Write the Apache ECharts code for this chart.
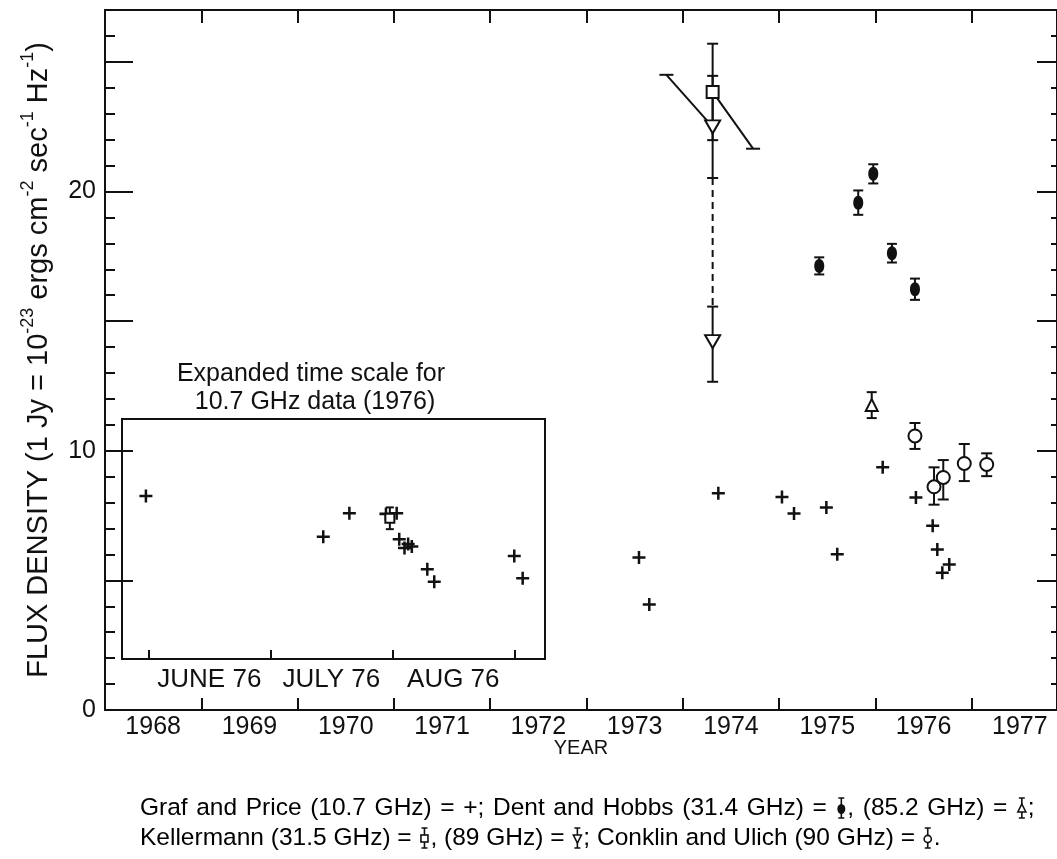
<!DOCTYPE html>
<html>
<head>
<meta charset="utf-8">
<script src="https://cdn.jsdelivr.net/npm/echarts@6/dist/echarts.min.js"></script>
<style>
  html, body { margin: 0; padding: 0; background: #fff; }
  #chart { width: 1057px; height: 859px; }
</style>
</head>
<body>
<div id="chart"></div>
<script>
// ---- data -------------------------------------------------------------
// Graf and Price, 10.7 GHz: [year, flux Jy]
const grafPrice = [
  [1973.545, 5.88], [1973.652, 4.07], [1974.369, 8.36], [1975.030, 8.22],
  [1975.155, 7.58], [1975.491, 7.81], [1975.604, 6.01], [1976.076, 9.36],
  [1976.421, 8.20], [1976.595, 7.11], [1976.643, 6.19], [1976.695, 5.29],
  [1976.767, 5.61]
];
// Dent and Hobbs, 31.4 GHz: [year, flux, low, high]
const dentHobbs31 = [
  [1975.417, 17.13, 16.80, 17.46], [1975.822, 19.57, 19.10, 20.04],
  [1975.978, 20.68, 20.31, 21.05], [1976.172, 17.62, 17.26, 17.98],
  [1976.411, 16.23, 15.82, 16.64]
];
// Dent and Hobbs, 85.2 GHz
const dentHobbs85 = [[1975.962, 11.76, 11.26, 12.26]];
// Kellermann, 31.5 GHz
const kellermann31 = [[1974.31, 23.84, 21.98, 25.70]];
// Kellermann, 89 GHz
const kellermann89 = [[1974.31, 22.49, 20.52, 24.46], [1974.31, 14.21, 12.66, 15.56]];
// Conklin and Ulich, 90 GHz
const conklinUlich = [
  [1976.411, 10.57, 10.07, 11.07], [1976.609, 8.61, 7.92, 9.36],
  [1976.705, 8.97, 8.12, 9.64], [1976.923, 9.51, 8.83, 10.26],
  [1977.156, 9.47, 9.02, 9.90]
];
// dashed link between the two 89 GHz measurements
const link89 = [[1974.31, 20.52], [1974.31, 15.56]];
// sloped segments attached to the Kellermann points
const slopeA = [[1973.83, 24.50], [1974.31, 22.49]];
const slopeB = [[1974.31, 23.84], [1974.73, 21.65]];
const slopeCaps = [slopeA[0], slopeB[1]];

// inset: 10.7 GHz in 1976, x in months (6 = 1 June, 7 = 1 July ...)
const insetGraf = [
  [5.980, 8.25], [7.434, 6.68], [7.648, 7.58], [7.948, 7.56], [8.036, 7.58],
  [8.057, 6.58], [8.100, 6.24], [8.130, 6.40], [8.160, 6.30], [8.287, 5.42],
  [8.344, 4.94], [9.000, 5.93], [9.069, 5.07]
];
const insetKellermann = [[7.98, 7.39, 6.97, 7.81]];

// axis ticks and labels
const yearTicks = [1969, 1970, 1971, 1972, 1973, 1974, 1975, 1976, 1977];
const yearLabels = [1968, 1969, 1970, 1971, 1972, 1973, 1974, 1975, 1976, 1977];
const yLabels = [0, 10, 20];
const monthTicks = [6, 7, 8, 9];
const monthLabels = ['JUNE 76', 'JULY 76', 'AUG 76'];

// ---- drawing ---------------------------------------------------------
const INK = '#111';
const FONT = 'Liberation Sans';

const chart = echarts.init(document.getElementById('chart'), null, { renderer: 'canvas' });

const crossPath = 'path://M5,0H7.4V5H12.4V7.4H7.4V12.4H5V7.4H0V5H5Z';
const ovalPath = 'path://M5,0C8,0 10,3 10,7C10,11 8,14 5,14C2,14 0,11 0,7C0,3 2,0 5,0Z';
const capPath = 'path://M0,0H14V2H0Z';

function errorBars(data, xi, yi, cap) {
  return {
    type: 'custom', xAxisIndex: xi, yAxisIndex: yi, z: 2, silent: true,
    data: data.map(d => [d[0], d[2], d[3]]),
    encode: { x: 0, y: [1, 2] },
    renderItem(params, api) {
      const x = api.value(0);
      const lo = api.coord([x, api.value(1)]);
      const hi = api.coord([x, api.value(2)]);
      const w = cap / 2;
      const st = { stroke: INK, lineWidth: 2 };
      return {
        type: 'group', children: [
          { type: 'line', shape: { x1: lo[0], y1: lo[1], x2: hi[0], y2: hi[1] }, style: st },
          { type: 'line', shape: { x1: lo[0] - w, y1: lo[1], x2: lo[0] + w, y2: lo[1] }, style: st },
          { type: 'line', shape: { x1: hi[0] - w, y1: hi[1], x2: hi[0] + w, y2: hi[1] }, style: st }
        ]
      };
    }
  };
}

function markers(data, xi, yi, symbol, size, filled, rotate) {
  return {
    type: 'scatter', xAxisIndex: xi, yAxisIndex: yi, z: 4, silent: true,
    symbol, symbolSize: size, symbolRotate: rotate || 0,
    data: data.map(d => [d[0], d[1]]),
    itemStyle: filled
      ? { color: INK, opacity: 1 }
      : { color: '#fff', borderColor: INK, borderWidth: 2, opacity: 1 }
  };
}

function svgIcon(body, w, h) {
  const svg = `<svg xmlns="http://www.w3.org/2000/svg" width="${w}" height="${h}" viewBox="0 0 ${w} ${h}">` +
    `<g stroke="${INK}" stroke-width="1.6" fill="none">${body}</g></svg>`;
  return 'data:image/svg+xml;charset=utf-8,' + encodeURIComponent(svg);
}
const barBody = '<line x1="6" y1="1" x2="6" y2="21"/><line x1="3" y1="1" x2="9" y2="1"/><line x1="3" y1="21" x2="9" y2="21"/>';
const icons = {
  filled: svgIcon(barBody + `<ellipse cx="6" cy="12" rx="3.2" ry="4.2" fill="${INK}"/>`, 12, 22),
  upTri: svgIcon(barBody + '<polygon points="6,7 10,15 2,15" fill="#fff"/>', 12, 22),
  square: svgIcon(barBody + '<rect x="2.5" y="8" width="7" height="7" fill="#fff"/>', 12, 22),
  downTri: svgIcon(barBody + '<polygon points="2,8 10,8 6,16" fill="#fff"/>', 12, 22),
  circle: svgIcon(barBody + '<circle cx="6" cy="12" r="3.6" fill="#fff"/>', 12, 22)
};
const iconRich = {};
Object.keys(icons).forEach(k => {
  iconRich[k] = { width: 12, height: 22, backgroundColor: { image: icons[k] } };
});
const captionRich = Object.assign({
  t: { fontFamily: FONT, fontSize: 24.5, color: INK, lineHeight: 28 },
  // widened word space for the justified first caption line
  j: { fontFamily: FONT, fontSize: 24.5, color: INK, lineHeight: 28, width: 8.6 }
}, iconRich);

// first caption line is set justified: its word spaces become wider tokens
function justify(s) {
  return s.split(' ').map(w => (w ? '{t|' + w + '}' : '')).join('{j| }');
}
const captionLine1 = justify('Graf and Price (10.7 GHz) = +; Dent and Hobbs (31.4 GHz) =') +
  '{j| }{filled| }{t|,}{j| }' + justify('(85.2 GHz) =') + '{j| }{upTri| }{t|;}';
const captionLine2 = '{t|Kellermann (31.5 GHz) = }{square| }{t|, (89 GHz) = }{downTri| }' +
  '{t|; Conklin and Ulich (90 GHz) = }{circle| }{t|.}';

const option = {
  backgroundColor: '#fff',
  animation: false,
  grid: [
    { left: 105, right: 0, top: 10, bottom: 149, containLabel: false, outerBoundsMode: 'none' },
    { left: 122, top: 419, width: 423, height: 240, containLabel: false, outerBoundsMode: 'none',
      show: true, backgroundColor: '#fff', borderColor: INK, borderWidth: 2 }
  ],
  xAxis: [
    { // main bottom axis
      type: 'value', gridIndex: 0, position: 'bottom', min: 1968, max: 1977.886,
      name: 'YEAR', nameLocation: 'middle', nameGap: 28, nameMoveOverlap: false,
      nameTextStyle: { fontFamily: FONT, fontSize: 20, color: INK },
      axisLine: { show: true, onZero: false, lineStyle: { color: INK, width: 2 } },
      axisTick: { show: true, inside: true, length: 12, customValues: yearTicks, lineStyle: { color: INK, width: 2 } },
      axisLabel: { show: true, customValues: yearLabels.map(y => y + 0.5), formatter: v => String(Math.floor(v)),
        fontFamily: FONT, fontSize: 25, color: INK, margin: 5 },
      splitLine: { show: false }
    },
    { // main top axis (ticks only)
      type: 'value', gridIndex: 0, position: 'top', min: 1968, max: 1977.886,
      axisLine: { show: true, onZero: false, lineStyle: { color: INK, width: 2 } },
      axisTick: { show: true, inside: true, length: 13, customValues: yearTicks, lineStyle: { color: INK, width: 2 } },
      axisLabel: { show: false }, splitLine: { show: false }
    },
    { // inset month axis
      type: 'value', gridIndex: 1, position: 'bottom', min: 5.784, max: 9.252,
      axisLine: { show: false },
      axisTick: { show: true, inside: true, length: 9, customValues: monthTicks, lineStyle: { color: INK, width: 2 } },
      axisLabel: { show: true, customValues: monthLabels.map((m, i) => 6.5 + i),
        formatter: v => monthLabels[Math.floor(v) - 6],
        fontFamily: FONT, fontSize: 26, color: INK, margin: 8 },
      splitLine: { show: false }
    }
  ],
  yAxis: [
    { // main left axis
      type: 'value', gridIndex: 0, position: 'left', min: 0, max: 27, interval: 5,
      name: '{t|FLUX DENSITY (1 Jy = 10}{s|-23}{t| ergs cm}{s|-2}{t| sec}{s|-1}{t| Hz}{s|-1}{t|)}',
      nameLocation: 'middle', nameRotate: 90, nameGap: 52, nameMoveOverlap: false,
      nameTextStyle: {
        rich: {
          t: { fontFamily: FONT, fontSize: 29, color: INK, lineHeight: 34, verticalAlign: 'bottom' },
          s: { fontFamily: FONT, fontSize: 18, color: INK, lineHeight: 34, verticalAlign: 'top' }
        }
      },
      axisLine: { show: true, onZero: false, lineStyle: { color: INK, width: 2 } },
      axisTick: { show: true, inside: true, length: 28, lineStyle: { color: INK, width: 2 } },
      minorTick: { show: true, splitNumber: 5, length: 10, lineStyle: { color: INK, width: 2 } },
      axisLabel: { show: true, formatter: v => (yLabels.indexOf(v) >= 0 ? String(v) : ''),
        fontFamily: FONT, fontSize: 25, color: INK, margin: 9 },
      splitLine: { show: false }, minorSplitLine: { show: false }
    },
    { // main right axis (ticks only)
      type: 'value', gridIndex: 0, position: 'right', min: 0, max: 27, interval: 5,
      axisLine: { show: true, onZero: false, lineStyle: { color: INK, width: 2 } },
      axisTick: { show: true, inside: true, length: 20, lineStyle: { color: INK, width: 2 } },
      minorTick: { show: true, splitNumber: 5, length: 6, lineStyle: { color: INK, width: 2 } },
      axisLabel: { show: false }, splitLine: { show: false }
    },
    { // inset axis, same flux scale as the main axis
      type: 'value', gridIndex: 1, min: 1.956, max: 11.224, show: false, splitLine: { show: false }
    }
  ],
  series: [
    // sloped segments and dashed link
    { type: 'line', xAxisIndex: 0, yAxisIndex: 0, data: slopeA, symbol: 'none', silent: true, z: 2,
      lineStyle: { color: INK, width: 2 } },
    { type: 'line', xAxisIndex: 0, yAxisIndex: 0, data: slopeB, symbol: 'none', silent: true, z: 2,
      lineStyle: { color: INK, width: 2 } },
    { type: 'scatter', xAxisIndex: 0, yAxisIndex: 0, data: slopeCaps, symbol: capPath, symbolSize: [14, 2],
      itemStyle: { color: INK, opacity: 1 }, silent: true, z: 2 },
    { type: 'line', xAxisIndex: 0, yAxisIndex: 0, data: link89, symbol: 'none', silent: true, z: 2,
      lineStyle: { color: INK, width: 2, type: [7, 5] } },

    // error bars
    errorBars(dentHobbs31, 0, 0, 10),
    errorBars(dentHobbs85, 0, 0, 10),
    errorBars(kellermann31, 0, 0, 11),
    errorBars(kellermann89, 0, 0, 11),
    errorBars(conklinUlich, 0, 0, 11),
    errorBars(insetKellermann, 2, 2, 8),

    // markers
    markers(grafPrice, 0, 0, crossPath, 13, true),
    markers(dentHobbs31, 0, 0, ovalPath, [10, 14], true),
    markers(dentHobbs85, 0, 0, 'triangle', [12, 12], false),
    markers(kellermann31, 0, 0, 'rect', 12, false),
    markers(kellermann89, 0, 0, 'triangle', [15, 13], false, 180),
    markers(conklinUlich, 0, 0, 'circle', 13, false),
    markers(insetGraf, 2, 2, crossPath, 13, true),
    markers(insetKellermann, 2, 2, 'rect', 9, false)
  ],
  graphic: [
    { type: 'text', x: 311, y: 374, z: 10, silent: true,
      style: { text: 'Expanded time scale for', fontFamily: FONT, fontSize: 25, fill: INK,
        align: 'center', verticalAlign: 'middle' } },
    { type: 'text', x: 315, y: 402, z: 10, silent: true,
      style: { text: '10.7 GHz data (1976)', fontFamily: FONT, fontSize: 25, fill: INK,
        align: 'center', verticalAlign: 'middle' } },
    { type: 'text', x: 140, y: 808, z: 10, silent: true,
      style: { text: captionLine1, rich: captionRich, align: 'left', verticalAlign: 'middle' } },
    { type: 'text', x: 140, y: 838, z: 10, silent: true,
      style: { text: captionLine2, rich: captionRich, align: 'left', verticalAlign: 'middle' } }
  ]
};

chart.setOption(option);
</script>
</body>
</html>
